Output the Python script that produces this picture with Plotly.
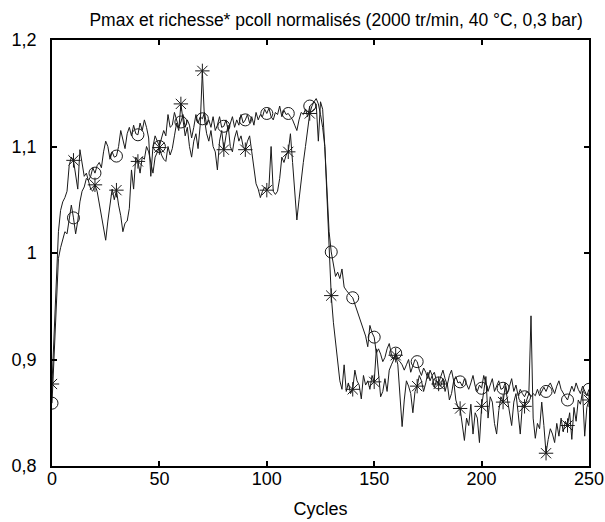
import plotly.graph_objects as go

cycles = list(range(0, 251))

pmax_circles = [
    0.859, 0.905, 0.965, 0.995, 1.005, 1.012, 1.02, 1.018, 1.03, 1.045,
    1.033, 1.018, 1.03, 1.048, 1.058, 1.062, 1.07, 1.068, 1.072, 1.08,
    1.075, 1.082, 1.085, 1.08, 1.095, 1.105, 1.1, 1.088, 1.095, 1.09,
    1.091, 1.1, 1.115, 1.105, 1.098, 1.112, 1.118, 1.11, 1.12, 1.112,
    1.111, 1.122, 1.115, 1.125, 1.118, 1.108, 1.072, 1.1, 1.11, 1.105,
    1.100, 1.108, 1.115, 1.11, 1.13, 1.118, 1.12, 1.132, 1.125, 1.118,
    1.123, 1.13, 1.118, 1.125, 1.12, 1.108, 1.118, 1.13, 1.122, 1.128,
    1.126, 1.132, 1.12, 1.125, 1.118, 1.128, 1.115, 1.12, 1.128, 1.118,
    1.119, 1.125, 1.115, 1.122, 1.128, 1.118, 1.125, 1.12, 1.13, 1.122,
    1.125, 1.13, 1.122, 1.128, 1.12, 1.132, 1.125, 1.13, 1.128, 1.135,
    1.131, 1.136, 1.128, 1.125, 1.132, 1.13, 1.138, 1.128, 1.134, 1.13,
    1.131, 1.128, 1.125, 1.12, 1.115, 1.125, 1.132, 1.13, 1.135, 1.128,
    1.138, 1.14, 1.142, 1.145, 1.14, 1.13, 1.118, 1.1, 1.06, 1.02,
    1.001, 0.99, 0.978, 0.982, 0.976, 0.985, 0.968, 0.965, 0.962, 0.96,
    0.958, 0.952, 0.945, 0.94, 0.935, 0.928, 0.922, 0.912, 0.932, 0.925,
    0.921, 0.906, 0.91, 0.905, 0.898, 0.902, 0.91, 0.915, 0.905, 0.9,
    0.906, 0.9, 0.898, 0.895, 0.89, 0.895, 0.9, 0.888, 0.895, 0.9,
    0.898, 0.89, 0.885, 0.892, 0.888, 0.882, 0.89, 0.885, 0.888, 0.88,
    0.878, 0.885, 0.89, 0.882, 0.876, 0.885, 0.89, 0.88, 0.884, 0.878,
    0.879, 0.875, 0.882, 0.877, 0.872, 0.878, 0.885, 0.875, 0.87, 0.876,
    0.873, 0.885, 0.878, 0.87, 0.876, 0.882, 0.87, 0.875, 0.88, 0.872,
    0.873, 0.878, 0.868, 0.875, 0.882, 0.87, 0.876, 0.866, 0.872, 0.868,
    0.865, 0.87, 0.868, 0.865, 0.868, 0.866, 0.872, 0.866, 0.87, 0.874,
    0.870, 0.875, 0.878, 0.872, 0.868, 0.875, 0.88, 0.872, 0.868, 0.865,
    0.862, 0.868, 0.875, 0.87, 0.878, 0.872, 0.868, 0.875, 0.87, 0.866,
    0.872,
]

richesse_stars = [
    0.877, 0.93, 0.985, 1.02, 1.04, 1.048, 1.052, 1.058, 1.082, 1.09,
    1.087, 1.072, 1.06, 1.097, 1.085, 1.072, 1.075, 1.068, 1.06, 1.058,
    1.064, 1.058, 1.047, 1.035, 1.022, 1.012, 1.03, 1.047, 1.06, 1.05,
    1.059, 1.045, 1.035, 1.02, 1.028, 1.03, 1.042, 1.078, 1.06, 1.09,
    1.086, 1.075, 1.09, 1.088, 1.1, 1.095, 1.085, 1.075, 1.09, 1.095,
    1.099, 1.092, 1.088, 1.086, 1.1, 1.092, 1.098, 1.11, 1.122, 1.115,
    1.140, 1.125, 1.11, 1.118, 1.1, 1.09, 1.105, 1.112, 1.098, 1.12,
    1.171, 1.125, 1.112, 1.105, 1.115, 1.1, 1.095, 1.078, 1.105, 1.115,
    1.097, 1.11, 1.12, 1.1, 1.095, 1.108, 1.115, 1.105, 1.11, 1.1,
    1.097, 1.105, 1.11, 1.095, 1.08, 1.065, 1.06, 1.052, 1.058, 1.062,
    1.059, 1.062, 1.1, 1.058, 1.055, 1.058, 1.07, 1.09, 1.085, 1.092,
    1.095, 1.112, 1.085, 1.055, 1.031, 1.05, 1.07, 1.085, 1.1, 1.118,
    1.131, 1.138, 1.142, 1.14, 1.105, 1.142, 1.135, 1.1, 1.05, 1.0,
    0.960, 0.935, 0.915, 0.895, 0.88, 0.872, 0.895, 0.87, 0.878, 0.868,
    0.872, 0.89, 0.88, 0.876, 0.863, 0.885, 0.876, 0.88, 0.872, 0.885,
    0.879, 0.91, 0.885, 0.865, 0.87, 0.882, 0.87, 0.89, 0.895, 0.9,
    0.904, 0.895, 0.87, 0.837, 0.862, 0.88, 0.875, 0.868, 0.85, 0.87,
    0.875, 0.885, 0.88, 0.87, 0.878, 0.888, 0.88, 0.885, 0.874, 0.88,
    0.877, 0.875, 0.882, 0.87, 0.878, 0.862, 0.868, 0.88, 0.862, 0.855,
    0.854, 0.84, 0.824, 0.845, 0.838, 0.858, 0.83, 0.85, 0.845, 0.822,
    0.856, 0.87, 0.884, 0.845, 0.865, 0.86, 0.84, 0.83, 0.852, 0.865,
    0.860, 0.875, 0.862, 0.852, 0.838, 0.86, 0.868, 0.85, 0.83, 0.858,
    0.856, 0.862, 0.868, 0.941, 0.845, 0.826, 0.84, 0.835, 0.86, 0.838,
    0.812, 0.825, 0.835, 0.83, 0.822, 0.84, 0.828, 0.845, 0.832, 0.842,
    0.838, 0.85, 0.825, 0.855, 0.842, 0.862, 0.858, 0.87, 0.828, 0.855,
    0.862,
]

x_ticks = [0, 50, 100, 150, 200, 250]
x_ticktext = ["0", "50", "100", "150", "200", "250"]
y_ticks = [0.8, 0.9, 1.0, 1.1, 1.2]
y_ticktext = ["0,8", "0,9", "1", "1,1", "1,2"]

marker_step = 10
line_col = "#1a1a1a"
font_family = "Liberation Sans, Arial, Helvetica"
font_size = 18

fig = go.Figure()
fig.add_trace(go.Scatter(x=cycles, y=pmax_circles, mode="lines",
                         line=dict(color=line_col, width=1), showlegend=False))
fig.add_trace(go.Scatter(x=cycles, y=richesse_stars, mode="lines",
                         line=dict(color=line_col, width=1), showlegend=False))
fig.add_trace(go.Scatter(x=cycles[::marker_step], y=pmax_circles[::marker_step], mode="markers",
                         marker=dict(symbol="circle-open", size=12, color=line_col,
                                     line=dict(width=1, color=line_col)),
                         showlegend=False))
fig.add_trace(go.Scatter(x=cycles[::marker_step], y=richesse_stars[::marker_step], mode="markers",
                         marker=dict(symbol="asterisk-open", size=12, color=line_col,
                                     line=dict(width=1, color=line_col)),
                         showlegend=False))

axis_common = dict(showgrid=False, zeroline=False, showline=True, linecolor="black",
                   linewidth=1.5, mirror="ticks", ticks="inside", ticklen=5,
                   tickwidth=1.5, tickcolor="black", automargin=False,
                   tickfont=dict(family=font_family, size=font_size, color="black"))

fig.update_layout(
    width=605, height=522,
    margin=dict(l=52, r=16, t=40, b=56),
    paper_bgcolor="white", plot_bgcolor="white",
    title=dict(text="Pmax et richesse* pcoll normalisés (2000 tr/min, 40 °C, 0,3 bar)",
               xref="paper", x=0.529, xanchor="center",
               yref="container", y=0.962, yanchor="middle", automargin=False,
               font=dict(family=font_family, size=17.5, color="black")),
    xaxis=dict(range=[0, 250], tickvals=x_ticks, ticktext=x_ticktext,
               ticklabelstandoff=-4,
               title=dict(text="Cycles", standoff=14,
                          font=dict(family=font_family, size=font_size, color="black")),
               **axis_common),
    yaxis=dict(range=[0.8, 1.2], tickvals=y_ticks, ticktext=y_ticktext,
               ticklabelstandoff=10, **axis_common),
)

fig.write_html("out.html")
